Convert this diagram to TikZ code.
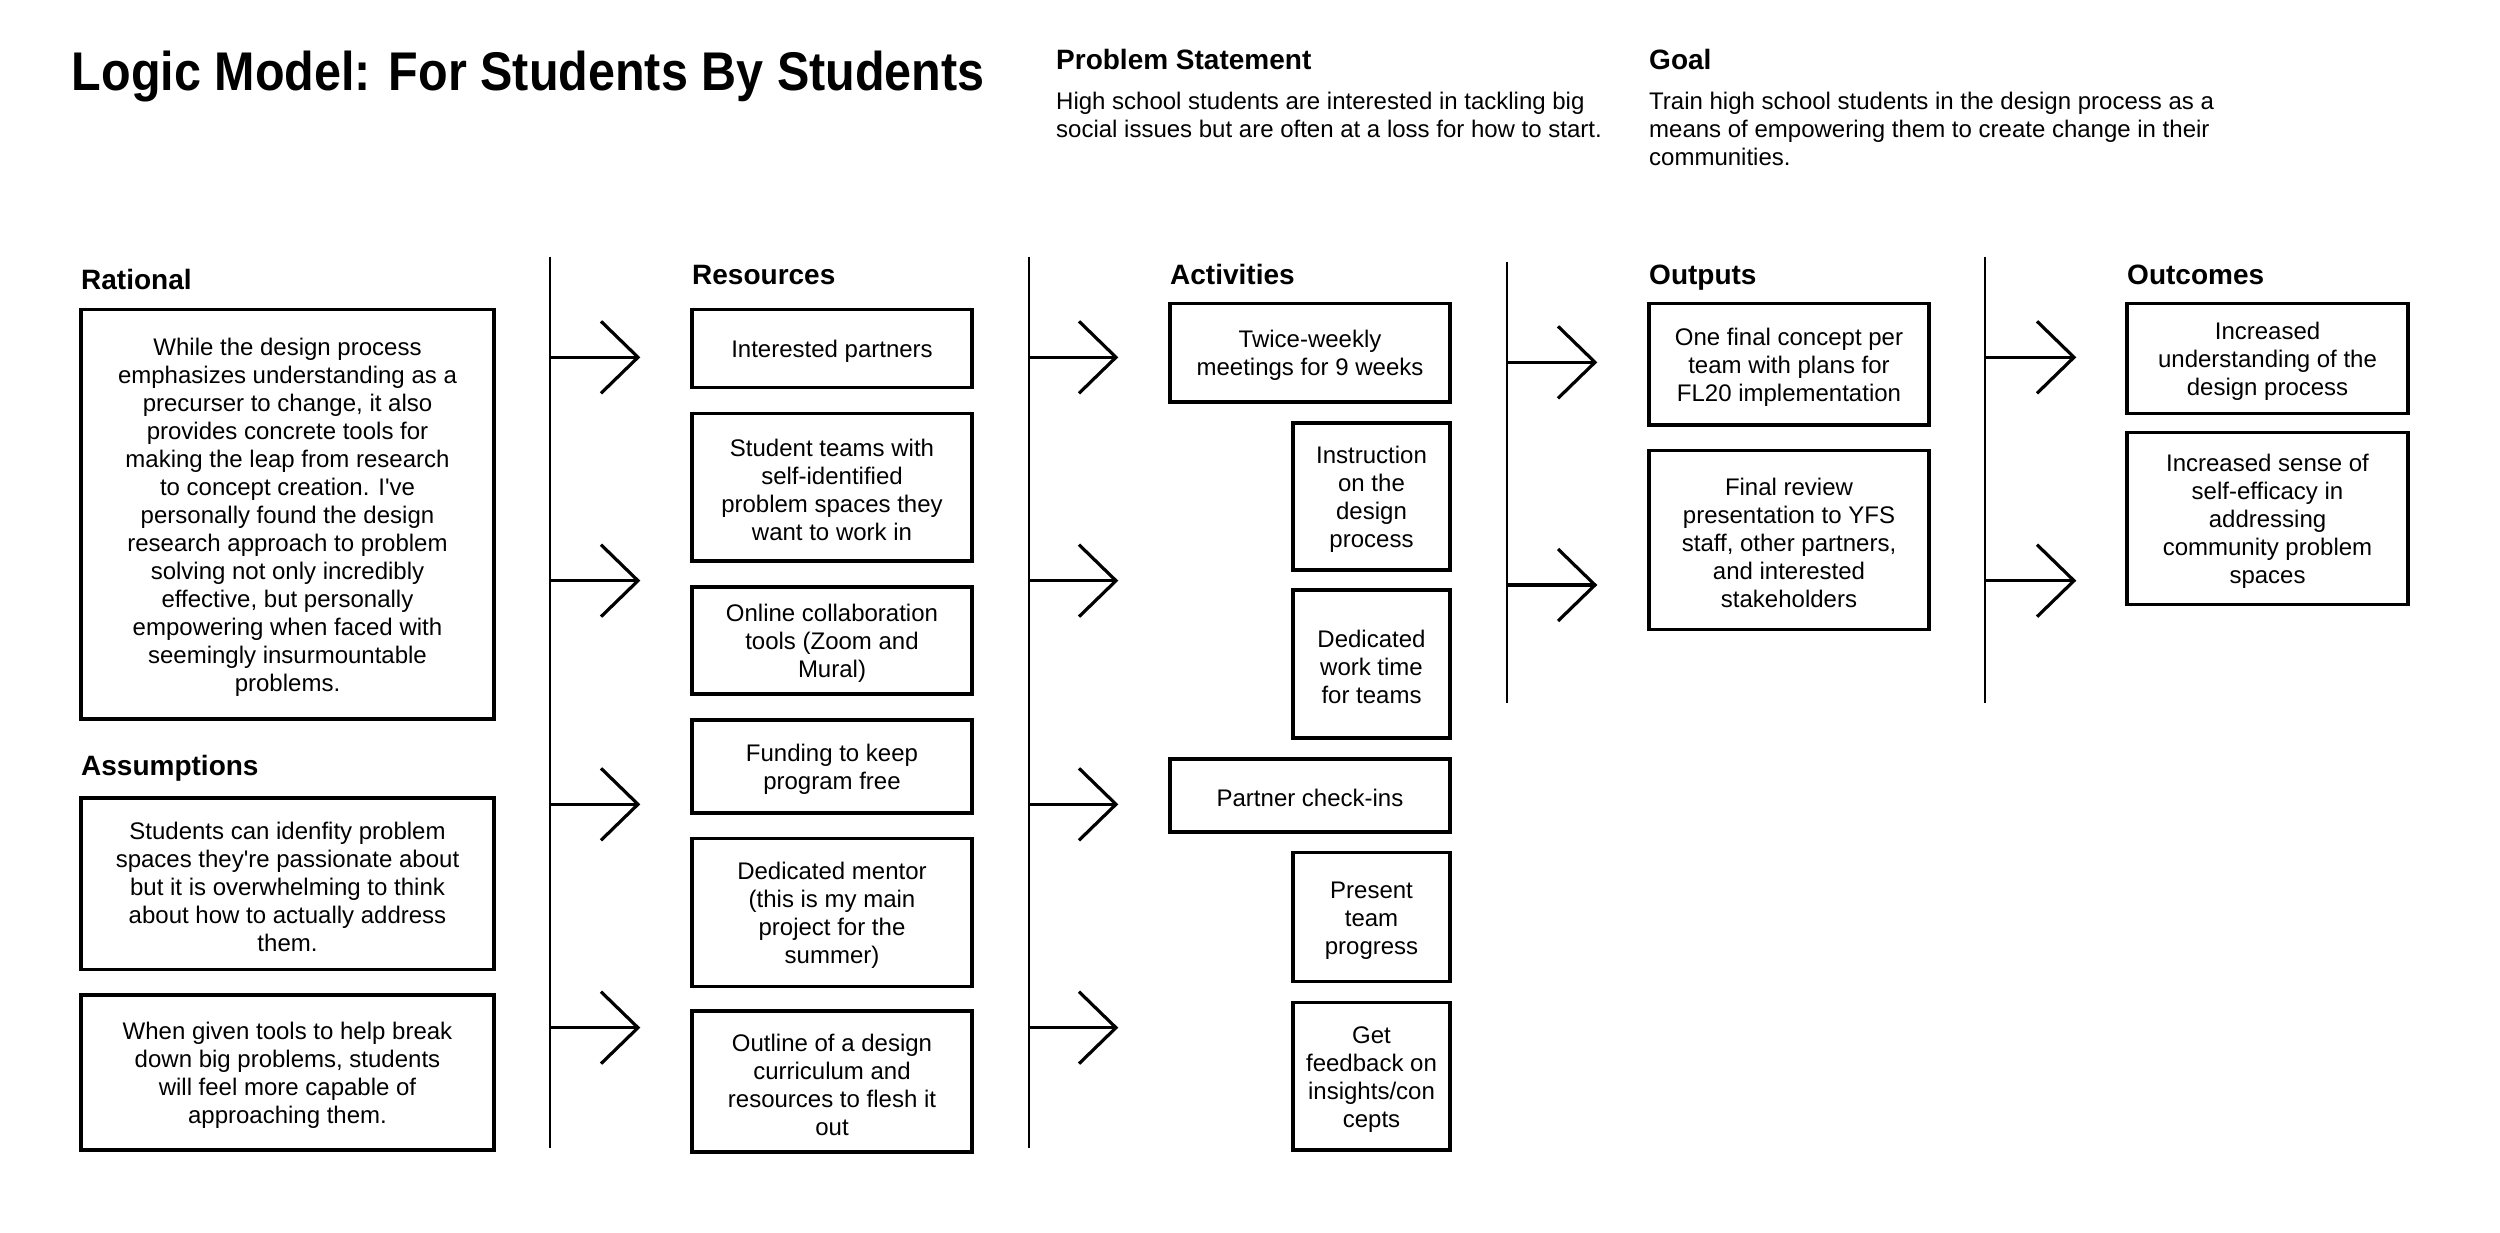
\documentclass[tikz,border=0pt]{standalone}
\usepackage{fontspec}
\setmainfont{Liberation Sans}
\usepackage{graphicx}
\newcommand{\chevtip}[1]{\draw[arr] ([shift={(-37,-36)}]#1) -- (#1) -- ([shift={(-37,36)}]#1);}
\newcommand{\apos}{\textquotesingle}
\newcommand{\tp}{\rule{0pt}{23.5pt}}
\begin{document}
\begin{tikzpicture}[x=1pt,y=-1pt,
  box/.style={draw, line width=3.5pt, align=center, inner sep=0pt, font=\fontsize{24}{28}\selectfont},
  head/.style={anchor=base west, inner sep=0pt, font=\bfseries\fontsize{28}{32}\selectfont},
  para/.style={anchor=north west, inner sep=0pt, align=left, font=\fontsize{24}{28}\selectfont},
  vline/.style={line width=2pt},
  arr/.style={line width=3.2pt, line join=miter, line cap=butt}]
\useasboundingbox[fill=white] (0,0) rectangle (2500,1233);

% title and header texts
\node[anchor=base west, inner sep=0pt, font=\bfseries\fontsize{54.5}{60}\selectfont] (title) at (71.7,90.7)
  {\scalebox{0.89}[1]{Logic Model: For Students By Students}};
\node[head] (psh) at (1056,70) {Problem Statement};
\node[para] (pst) at (1056,92.3) {High school students are interested in tackling big\\social issues but are often at a loss for how to start.};
\node[head] (goalh) at (1649,70) {Goal};
\node[para] (goalt) at (1649,92.3) {Train high school students in the design process as a\\means of empowering them to create change in their\\communities.};

% column headings
\node[head] (hrat) at (81,290) {Rational};
\node[head] (hass) at (81,775) {Assumptions};
\node[head] (hres) at (692,284.3) {Resources};
\node[head] (hact) at (1170,284.3) {Activities};
\node[head] (hout) at (1649,284.3) {Outputs};
\node[head] (hoc) at (2127,284.3) {Outcomes};

% rational and assumptions
\node[box, minimum width=413pt, minimum height=409.7pt] (rat) at (287.5,514.2)
  {\tp While the design process\\emphasizes understanding as a\\precurser to change, it also\\provides concrete tools for\\making the leap from research\\to concept creation. I\apos ve\\personally found the design\\research approach to problem\\solving not only incredibly\\effective, but personally\\empowering when faced with\\seemingly insurmountable\\problems.};
\node[box, minimum width=413pt, minimum height=171.3pt] (as1) at (287.5,883.7)
  {\tp Students can idenfity problem\\spaces they\apos re passionate about\\but it is overwhelming to think\\about how to actually address\\them.};
\node[box, minimum width=413pt, minimum height=155pt] (as2) at (287.5,1072.5)
  {\tp When given tools to help break\\down big problems, students\\will feel more capable of\\approaching them.};

% resources
\node[box, minimum width=280pt, minimum height=78.4pt] (r1) at (832,348.5) {\tp Interested partners};
\node[box, minimum width=280pt, minimum height=147.7pt] (r2) at (832,487.2) {\tp Student teams with\\self-identified\\problem spaces they\\want to work in};
\node[box, minimum width=280pt, minimum height=107.3pt] (r3) at (832,640.4) {\tp Online collaboration\\tools (Zoom and\\Mural)};
\node[box, minimum width=280pt, minimum height=92.7pt] (r4) at (832,766.4) {\tp Funding to keep\\program free};
\node[box, minimum width=280pt, minimum height=148.4pt] (r5) at (832,912.5) {\tp Dedicated mentor\\(this is my main\\project for the\\summer)};
\node[box, minimum width=280pt, minimum height=141pt] (r6) at (832,1081.5) {\tp Outline of a design\\curriculum and\\resources to flesh it\\out};

% activities
\node[box, minimum width=280pt, minimum height=98.7pt] (a1) at (1310,352.7) {\tp Twice-weekly\\meetings for 9 weeks};
\node[box, minimum width=157pt, minimum height=147.3pt] (a2) at (1371.5,496.4) {\tp Instruction\\on the\\design\\process};
\node[box, minimum width=157pt, minimum height=148pt] (a3) at (1371.5,664) {\tp Dedicated\\work time\\for teams};
\node[box, minimum width=280pt, minimum height=73pt] (a4) at (1310,795.5) {\rule{0pt}{21.5pt}Partner check-ins};
\node[box, minimum width=157pt, minimum height=129pt] (a5) at (1371.5,917.2) {\tp Present\\team\\progress};
\node[box, minimum width=157pt, minimum height=147.7pt] (a6) at (1371.5,1076.2) {\tp Get\\feedback on\\insights/con\\cepts};

% outputs
\node[box, minimum width=280pt, minimum height=121.7pt] (o1) at (1789,364.2) {\tp One final concept per\\team with plans for\\FL20 implementation};
\node[box, minimum width=280pt, minimum height=178.6pt] (o2) at (1789,540) {\tp Final review\\presentation to YFS\\staff, other partners,\\and interested\\stakeholders};

% outcomes
\node[box, minimum width=281pt, minimum height=110pt] (c1) at (2267.5,358.3) {\tp Increased\\understanding of the\\design process};
\node[box, minimum width=281pt, minimum height=171.6pt] (c2) at (2267.5,518.5) {\tp Increased sense of\\self-efficacy in\\addressing\\community problem\\spaces};

% vertical separators
\coordinate (v1t) at (550,256.7);  \coordinate (v1b) at (550,1148.3);
\coordinate (v2t) at (1028.5,256.7); \coordinate (v2b) at (1028.5,1148.3);
\coordinate (v3t) at (1507,262);   \coordinate (v3b) at (1507,703.3);
\coordinate (v4t) at (1985,256.7); \coordinate (v4b) at (1985,703.3);
\draw[vline] (v1t) -- (v1b);
\draw[vline] (v2t) -- (v2b);
\draw[vline] (v3t) -- (v3b);
\draw[vline] (v4t) -- (v4b);

% arrows
\foreach \yy [count=\i] in {357.3,580.7,804.3,1027.7} {
  \coordinate (s1\i) at (550,\yy); \coordinate (e1\i) at (638,\yy);
  \draw[arr] (s1\i) -- (e1\i); \chevtip{e1\i}
  \coordinate (s2\i) at (1028.5,\yy); \coordinate (e2\i) at (1116,\yy);
  \draw[arr] (s2\i) -- (e2\i); \chevtip{e2\i}
}
\foreach \yy [count=\i] in {362.3,585} {
  \coordinate (s3\i) at (1507,\yy); \coordinate (e3\i) at (1595,\yy);
  \draw[arr] (s3\i) -- (e3\i); \chevtip{e3\i}
}
\foreach \yy [count=\i] in {357.3,580.7} {
  \coordinate (s4\i) at (1985,\yy); \coordinate (e4\i) at (2074,\yy);
  \draw[arr] (s4\i) -- (e4\i); \chevtip{e4\i}
}
\end{tikzpicture}
\end{document}
